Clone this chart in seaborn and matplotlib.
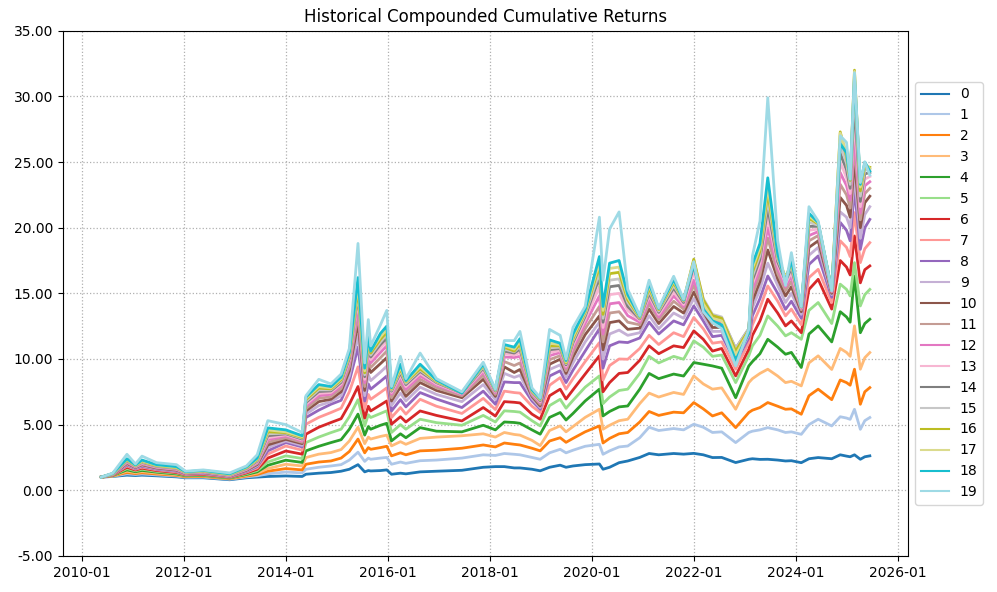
import matplotlib
matplotlib.use("Agg")
import matplotlib.pyplot as plt
import matplotlib.dates as mdates
import matplotlib.ticker as mticker
import seaborn as sns
import pandas as pd

dates = [
    "2010-05-20", "2010-08-10", "2010-11-20", "2011-01-20", "2011-03-08", "2011-06-20",
    "2011-11-10", "2012-01-15", "2012-05-20", "2012-11-25", "2013-03-25", "2013-06-10",
    "2013-08-25", "2014-01-01", "2014-04-28", "2014-05-25", "2014-08-25", "2014-11-20",
    "2015-02-01", "2015-04-01", "2015-06-02", "2015-07-20", "2015-08-15", "2015-09-01",
    "2015-11-10", "2015-12-25", "2016-01-28", "2016-04-01", "2016-05-10", "2016-08-20",
    "2016-12-15", "2017-06-15", "2017-11-15", "2018-02-10", "2018-04-15", "2018-06-25",
    "2018-08-05", "2018-10-30", "2018-12-28", "2019-03-05", "2019-05-20", "2019-07-01",
    "2019-08-20", "2019-11-15", "2020-02-25", "2020-03-22", "2020-05-08", "2020-07-15",
    "2020-09-15", "2020-12-10", "2021-02-15", "2021-04-25", "2021-08-10", "2021-10-20",
    "2022-01-01", "2022-03-10", "2022-05-15", "2022-07-20", "2022-10-28", "2023-01-30",
    "2023-02-25", "2023-04-20", "2023-06-15", "2023-08-25", "2023-10-20", "2023-12-01",
    "2024-02-10", "2024-04-05", "2024-06-10", "2024-09-15", "2024-11-15", "2024-12-30",
    "2025-01-25", "2025-02-25", "2025-04-08", "2025-05-10", "2025-06-15",
]

s0 = [1.0, 1.05, 1.15, 1.12, 1.15, 1.1, 1.02, 0.95, 0.95, 0.8, 0.95, 1.0, 1.05, 1.09, 1.05, 1.22, 1.3, 1.35, 1.45, 1.6,
      1.95, 1.4, 1.5, 1.47, 1.5, 1.55, 1.22, 1.3, 1.25, 1.4, 1.45, 1.52, 1.75, 1.8, 1.8, 1.7, 1.7, 1.6, 1.48, 1.75,
      1.91, 1.75, 1.85, 1.95, 2.0, 1.6, 1.75, 2.1, 2.23, 2.5, 2.8, 2.7, 2.8, 2.75, 2.81, 2.7, 2.49, 2.5, 2.11, 2.36,
      2.4, 2.35, 2.36, 2.3, 2.23, 2.25, 2.1, 2.4, 2.49, 2.4, 2.7, 2.6, 2.55, 2.7, 2.36, 2.55, 2.62]
s1 = [1.0, 1.07, 1.25, 1.2, 1.24, 1.17, 1.08, 0.99, 1.0, 0.84, 1.02, 1.1, 1.25, 1.39, 1.32, 1.6, 1.75, 1.85, 1.95, 2.3,
      2.9, 2.2, 2.45, 2.36, 2.45, 2.5, 1.98, 2.15, 2.05, 2.25, 2.3, 2.45, 2.7, 2.65, 2.8, 2.74, 2.7, 2.5, 2.36, 2.85,
      3.12, 2.85, 3.05, 3.35, 3.5, 2.74, 3.0, 3.3, 3.37, 4.0, 4.8, 4.55, 4.7, 4.6, 5.03, 4.8, 4.4, 4.45, 3.63, 4.4,
      4.5, 4.6, 4.77, 4.6, 4.4, 4.45, 4.26, 5.0, 5.41, 4.9, 5.6, 5.5, 5.4, 6.17, 4.64, 5.3, 5.54]
s2 = [1.0, 1.09, 1.35, 1.27, 1.33, 1.24, 1.13, 1.03, 1.05, 0.87, 1.08, 1.2, 1.45, 1.65, 1.55, 1.98, 2.15, 2.23, 2.45, 2.95,
      3.9, 2.85, 3.25, 3.12, 3.25, 3.35, 2.62, 2.85, 2.7, 3.0, 3.05, 3.2, 3.45, 3.3, 3.6, 3.5, 3.45, 3.2, 3.0, 3.75,
      4.0, 3.65, 3.95, 4.45, 4.9, 3.6, 3.95, 4.3, 4.4, 5.2, 6.0, 5.7, 5.95, 5.9, 6.68, 6.2, 5.66, 5.9, 4.77, 5.92,
      6.1, 6.3, 6.68, 6.4, 6.17, 6.2, 5.79, 7.2, 7.7, 6.9, 8.4, 8.2, 8.0, 9.22, 6.55, 7.5, 7.82]
s3 = [1.0, 1.1, 1.45, 1.34, 1.42, 1.31, 1.18, 1.07, 1.09, 0.9, 1.14, 1.3, 1.65, 1.98, 1.85, 2.49, 2.75, 2.87, 3.1, 3.75,
      4.8, 3.55, 4.05, 3.9, 4.1, 4.2, 3.38, 3.7, 3.5, 3.95, 4.05, 4.15, 4.3, 4.05, 4.4, 4.25, 4.2, 3.8, 3.4, 4.55,
      4.9, 4.45, 4.85, 5.55, 6.17, 4.65, 4.95, 5.3, 5.41, 6.6, 7.4, 7.1, 7.45, 7.3, 8.71, 8.1, 7.7, 7.8, 6.17, 8.2,
      8.5, 8.9, 9.22, 8.7, 8.2, 8.3, 7.95, 9.7, 10.24, 9.2, 10.8, 10.5, 10.2, 12.52, 9.22, 10.1, 10.49]
s4 = [1.0, 1.12, 1.55, 1.41, 1.51, 1.38, 1.24, 1.1, 1.13, 0.93, 1.2, 1.4, 1.9, 2.29, 2.12, 3.0, 3.35, 3.63, 3.85, 4.65,
      5.8, 4.2, 4.85, 4.65, 4.95, 5.1, 3.76, 4.3, 4.0, 4.77, 4.5, 4.45, 4.95, 4.6, 5.2, 5.16, 5.1, 4.6, 4.27, 5.55,
      5.92, 5.35, 5.85, 6.8, 7.7, 5.66, 6.0, 6.35, 6.42, 7.7, 8.9, 8.5, 8.85, 8.7, 9.73, 9.6, 9.47, 9.3, 7.05, 9.47,
      9.8, 10.4, 11.5, 10.9, 10.36, 10.5, 9.35, 11.9, 12.52, 11.3, 13.6, 13.2, 12.8, 16.32, 12.0, 12.7, 13.03]
s5 = [1.0, 1.14, 1.65, 1.48, 1.6, 1.44, 1.3, 1.14, 1.17, 0.96, 1.26, 1.5, 2.15, 2.62, 2.42, 3.63, 4.05, 4.39, 4.65, 5.6,
      6.9, 4.9, 5.75, 5.54, 5.85, 6.05, 4.4, 5.0, 4.65, 5.41, 5.15, 4.95, 5.7, 5.2, 6.05, 6.0, 5.95, 5.3, 4.9, 6.45,
      6.93, 6.25, 6.85, 7.85, 8.71, 6.6, 7.1, 7.6, 7.7, 8.9, 10.2, 9.7, 10.2, 9.98, 11.38, 10.9, 10.2, 10.3, 8.2, 10.24,
      11.0, 11.8, 13.28, 12.5, 11.76, 12.0, 11.5, 13.7, 14.3, 12.7, 15.7, 15.3, 14.8, 17.34, 14.04, 14.9, 15.3]
s6 = [1.0, 1.15, 1.75, 1.54, 1.68, 1.5, 1.35, 1.17, 1.21, 0.99, 1.32, 1.6, 2.45, 2.99, 2.75, 4.27, 4.8, 5.16, 5.45, 6.55,
      7.9, 5.5, 6.4, 6.04, 6.5, 6.8, 5.03, 5.6, 5.2, 6.04, 5.7, 5.28, 6.3, 5.65, 6.75, 6.7, 6.65, 5.8, 5.41, 7.2,
      7.7, 6.95, 7.65, 8.85, 10.24, 7.5, 8.2, 8.9, 8.97, 9.9, 11.0, 10.4, 11.0, 10.87, 12.14, 11.5, 10.6, 10.8, 8.71, 10.74,
      11.8, 12.9, 14.55, 13.5, 12.52, 12.9, 12.0, 15.3, 16.07, 13.8, 17.5, 17.0, 16.4, 19.37, 15.8, 16.8, 17.09]
s7 = [1.0, 1.17, 1.85, 1.6, 1.76, 1.56, 1.4, 1.2, 1.25, 1.02, 1.38, 1.7, 2.75, 3.37, 3.05, 5.03, 5.55, 5.92, 6.25, 7.5,
      9.4, 6.2, 7.3, 6.93, 7.45, 7.8, 5.54, 6.3, 5.8, 6.93, 6.4, 5.85, 7.0, 6.15, 7.55, 7.44, 7.4, 6.4, 5.92, 8.0,
      8.58, 7.7, 8.5, 9.8, 11.25, 8.4, 9.5, 10.0, 9.98, 10.8, 11.8, 11.1, 12.0, 11.7, 13.16, 12.3, 11.2, 11.3, 9.22, 11.25,
      12.6, 13.9, 15.56, 14.4, 13.28, 13.8, 12.6, 16.2, 16.83, 14.3, 19.0, 18.5, 17.8, 21.15, 17.34, 18.4, 18.86]
s8 = [1.0, 1.18, 1.92, 1.65, 1.82, 1.61, 1.45, 1.23, 1.28, 1.04, 1.43, 1.8, 3.0, 3.63, 3.3, 5.54, 6.1, 6.55, 6.85, 8.3,
      10.9, 6.8, 8.1, 7.7, 8.3, 8.7, 6.04, 6.9, 6.35, 7.44, 6.95, 6.3, 7.55, 6.55, 8.25, 8.2, 8.2, 6.8, 6.17, 8.7,
      9.1, 8.2, 9.15, 10.6, 12.3, 9.3, 11.0, 11.3, 11.25, 11.6, 12.8, 11.9, 12.9, 12.6, 14.04, 12.9, 11.7, 11.8, 9.73, 11.6,
      13.3, 14.6, 16.32, 15.0, 13.78, 14.4, 13.1, 17.2, 17.85, 14.7, 20.4, 19.8, 19.0, 22.92, 18.35, 20.0, 20.63]
s9 = [1.0, 1.19, 1.98, 1.69, 1.88, 1.65, 1.49, 1.25, 1.31, 1.06, 1.48, 1.88, 3.25, 3.76, 3.42, 5.8, 6.45, 6.75, 7.2, 8.7,
      11.8, 7.2, 8.8, 8.35, 9.0, 9.45, 6.45, 7.4, 6.8, 7.85, 7.3, 6.75, 8.05, 6.9, 8.9, 8.6, 8.75, 7.0, 6.3, 9.2,
      9.55, 8.6, 9.7, 11.3, 12.8, 10.0, 11.9, 12.2, 11.8, 12.0, 13.3, 12.3, 13.5, 13.1, 14.6, 13.3, 12.1, 12.1, 9.9, 11.85,
      13.9, 15.3, 17.3, 15.6, 14.3, 15.0, 13.4, 17.9, 18.5, 14.9, 21.2, 20.8, 20.0, 24.0, 19.2, 21.0, 21.6]
s10 = [1.0, 1.2, 2.04, 1.73, 1.94, 1.69, 1.53, 1.27, 1.34, 1.08, 1.52, 1.96, 3.45, 3.88, 3.55, 6.04, 6.75, 6.93, 7.5, 9.1,
       12.8, 7.6, 9.45, 8.97, 9.65, 10.1, 6.8, 7.85, 7.15, 8.2, 7.6, 7.05, 8.45, 7.15, 9.4, 8.97, 9.2, 7.15, 6.42, 9.6,
       9.98, 8.9, 10.15, 11.85, 13.28, 10.7, 12.77, 12.9, 12.26, 12.35, 13.8, 12.7, 14.0, 13.5, 15.1, 13.6, 12.4, 12.4, 10.1, 12.0,
       14.4, 15.9, 18.3, 16.1, 14.8, 15.5, 13.6, 18.5, 19.0, 15.0, 22.3, 21.7, 20.8, 25.2, 20.0, 21.9, 22.4]
s11 = [1.0, 1.21, 2.1, 1.76, 1.99, 1.73, 1.57, 1.29, 1.36, 1.1, 1.56, 2.03, 3.65, 4.0, 3.65, 6.22, 7.0, 7.12, 7.75, 9.4,
       13.4, 7.9, 9.9, 9.35, 10.1, 10.6, 7.05, 8.2, 7.45, 8.45, 7.8, 7.2, 8.75, 7.3, 9.8, 9.5, 9.7, 7.25, 6.55, 9.95,
       10.25, 9.1, 10.5, 12.3, 14.0, 11.3, 13.5, 13.6, 12.8, 12.6, 14.2, 13.0, 14.4, 13.8, 15.6, 13.9, 12.7, 12.6, 10.3, 12.1,
       14.9, 16.4, 19.2, 16.5, 15.2, 15.9, 13.75, 19.0, 19.4, 15.1, 23.3, 22.5, 21.5, 26.2, 20.6, 22.6, 23.0]
s12 = [1.0, 1.22, 2.15, 1.79, 2.04, 1.76, 1.6, 1.31, 1.39, 1.12, 1.6, 2.1, 3.85, 4.14, 3.75, 6.42, 7.2, 7.31, 7.95, 9.7,
       14.0, 8.2, 10.3, 9.7, 10.5, 11.0, 7.31, 8.5, 7.7, 8.7, 8.0, 7.3, 9.0, 7.42, 10.15, 10.11, 10.2, 7.35, 6.68, 10.25,
       10.49, 9.3, 10.8, 12.7, 14.8, 11.9, 14.2, 14.3, 13.3, 12.8, 14.5, 13.2, 14.8, 14.0, 16.0, 14.1, 12.9, 12.8, 10.45, 12.2,
       15.3, 16.9, 20.0, 16.9, 15.5, 16.3, 13.85, 19.4, 19.7, 15.15, 24.2, 23.2, 22.1, 27.0, 21.1, 23.2, 23.5]
s13 = [1.0, 1.23, 2.2, 1.82, 2.08, 1.79, 1.63, 1.33, 1.41, 1.14, 1.63, 2.16, 4.0, 4.22, 3.83, 6.55, 7.38, 7.45, 8.1, 9.9,
       14.6, 8.45, 10.6, 9.95, 10.85, 11.35, 7.45, 8.75, 7.9, 8.9, 8.1, 7.35, 9.15, 7.5, 10.4, 10.3, 10.5, 7.42, 6.75, 10.5,
       10.65, 9.45, 11.05, 13.0, 15.5, 12.4, 14.9, 15.0, 13.7, 12.95, 14.8, 13.4, 15.1, 14.15, 16.6, 14.3, 13.1, 12.95, 10.6, 12.25,
       15.7, 17.3, 20.8, 17.2, 15.75, 16.6, 13.9, 19.8, 19.9, 15.2, 25.0, 23.8, 22.6, 28.3, 21.6, 23.7, 23.9]
s14 = [1.0, 1.24, 2.24, 1.84, 2.12, 1.82, 1.66, 1.35, 1.43, 1.16, 1.66, 2.22, 4.15, 4.3, 3.9, 6.68, 7.52, 7.57, 8.22, 10.05,
       14.9, 8.65, 10.85, 10.15, 11.1, 11.6, 7.55, 8.95, 8.05, 9.05, 8.2, 7.4, 9.3, 7.55, 10.6, 10.45, 10.75, 7.48, 6.82, 10.7,
       10.8, 9.55, 11.25, 13.25, 16.2, 12.8, 15.5, 15.6, 14.0, 13.05, 15.0, 13.55, 15.4, 14.3, 17.1, 14.5, 13.3, 13.1, 10.8, 12.3,
       16.0, 17.6, 21.5, 17.4, 15.95, 16.9, 13.95, 20.1, 20.1, 15.25, 25.7, 24.4, 23.0, 29.5, 22.0, 24.1, 24.2]
s15 = [1.0, 1.25, 2.28, 1.86, 2.16, 1.85, 1.69, 1.36, 1.45, 1.18, 1.69, 2.28, 4.3, 4.35, 3.96, 6.78, 7.65, 7.65, 8.32, 10.2,
       15.1, 8.8, 11.05, 10.3, 11.3, 11.85, 7.62, 9.1, 8.15, 9.15, 8.25, 7.42, 9.4, 7.6, 10.75, 10.55, 10.95, 7.52, 6.88, 10.85,
       10.9, 9.65, 11.4, 13.4, 16.6, 13.1, 16.0, 16.1, 14.3, 13.1, 15.2, 13.65, 15.6, 14.4, 17.5, 14.6, 13.4, 13.2, 10.8, 12.3,
       16.3, 17.9, 22.1, 17.6, 16.1, 17.1, 14.0, 20.4, 20.2, 15.3, 26.3, 24.9, 23.3, 30.6, 22.4, 24.4, 24.4]
s16 = [1.0, 1.26, 2.32, 1.88, 2.2, 1.88, 1.72, 1.38, 1.47, 1.2, 1.72, 2.33, 4.45, 4.39, 4.02, 6.9, 7.78, 7.72, 8.42, 10.3,
       15.4, 8.95, 11.25, 10.45, 11.5, 12.05, 7.7, 9.25, 8.25, 9.25, 8.3, 7.44, 9.5, 7.63, 10.9, 10.6, 11.15, 7.56, 6.93, 11.0,
       11.0, 9.72, 11.55, 13.55, 17.1, 13.4, 16.5, 16.6, 14.5, 13.15, 15.4, 13.75, 15.8, 14.45, 17.6, 14.5, 13.3, 13.1, 10.6, 12.2,
       16.6, 18.2, 22.7, 17.8, 16.2, 17.3, 14.0, 20.7, 20.3, 15.3, 27.3, 25.4, 23.6, 32.0, 22.8, 24.7, 24.6]
s17 = [1.0, 1.27, 2.36, 1.9, 2.24, 1.91, 1.75, 1.39, 1.49, 1.22, 1.75, 2.38, 4.6, 4.45, 4.08, 7.0, 7.9, 7.8, 8.52, 10.4,
       15.8, 9.1, 11.45, 10.6, 11.7, 12.25, 7.75, 9.4, 8.3, 9.4, 8.35, 7.45, 9.55, 7.65, 11.0, 10.75, 11.35, 7.6, 6.96, 11.2,
       11.1, 9.8, 11.7, 13.65, 17.4, 13.7, 16.9, 17.0, 14.7, 13.2, 15.6, 13.8, 15.95, 14.5, 17.4, 14.2, 13.1, 12.9, 10.3, 12.1,
       16.9, 18.5, 23.2, 17.9, 16.1, 17.4, 14.0, 20.9, 20.35, 15.3, 27.2, 25.6, 23.7, 31.9, 23.1, 24.9, 24.5]
s18 = [1.0, 1.28, 2.4, 1.93, 2.3, 1.95, 1.8, 1.41, 1.51, 1.25, 1.78, 2.45, 4.75, 4.6, 4.15, 7.1, 8.05, 7.9, 8.62, 10.5,
       16.2, 9.3, 11.7, 10.6, 11.95, 12.5, 7.8, 9.6, 8.35, 9.6, 8.4, 7.4, 9.6, 7.68, 11.1, 10.9, 11.55, 7.65, 7.0, 11.45,
       11.2, 9.88, 11.9, 13.75, 17.8, 14.0, 17.3, 17.5, 14.9, 13.25, 15.75, 13.85, 16.05, 14.5, 17.2, 13.8, 12.9, 12.6, 9.9, 12.0,
       17.2, 18.8, 23.8, 18.0, 15.9, 17.5, 14.0, 21.1, 20.4, 15.25, 26.4, 25.7, 23.7, 31.5, 23.3, 25.0, 24.3]
s19 = [1.0, 1.3, 2.74, 2.0, 2.6, 2.1, 1.95, 1.45, 1.55, 1.32, 1.85, 2.7, 5.3, 5.0, 4.4, 7.2, 8.45, 8.1, 8.85, 10.8,
       18.8, 9.7, 13.0, 11.0, 12.6, 13.7, 7.9, 10.2, 8.5, 10.45, 8.5, 7.5, 9.75, 7.7, 11.4, 11.4, 12.1, 7.8, 7.05, 12.25,
       11.8, 10.0, 12.4, 14.0, 20.8, 16.0, 19.9, 21.2, 15.3, 13.3, 16.0, 13.9, 16.3, 14.55, 17.4, 13.6, 12.77, 12.3, 9.47, 12.26,
       17.85, 20.5, 29.9, 19.0, 15.6, 18.1, 14.0, 21.6, 20.5, 15.2, 27.0, 26.5, 23.7, 31.8, 23.44, 25.0, 24.0]

series_labels = [str(i) for i in range(20)]
series_values = [s0, s1, s2, s3, s4, s5, s6, s7, s8, s9, s10, s11, s12, s13, s14, s15, s16, s17, s18, s19]

for lab, vals in zip(series_labels, series_values):
    assert len(vals) == len(dates), (lab, len(vals), len(dates))

df = pd.concat(
    [pd.DataFrame({"date": pd.to_datetime(dates), "value": vals, "series": lab})
     for lab, vals in zip(series_labels, series_values)],
    ignore_index=True,
)

fig, ax = plt.subplots(figsize=(9.97, 5.92), dpi=100)
sns.lineplot(
    data=df, x="date", y="value", hue="series", hue_order=series_labels,
    palette=sns.color_palette("tab20", 20), linewidth=2.0, estimator=None,
    ax=ax,
)

ax.set_title("Historical Compounded Cumulative Returns", fontsize=12)
ax.set_xlabel("")
ax.set_ylabel("")
ax.set_ylim(-5, 35)
ax.yaxis.set_major_locator(mticker.MultipleLocator(5))
ax.yaxis.set_major_formatter(mticker.FormatStrFormatter("%.2f"))
ax.xaxis.set_major_locator(mdates.YearLocator(2))
ax.xaxis.set_major_formatter(mdates.DateFormatter("%Y-%m"))
ax.grid(True, linestyle=":", color="#b0b0b0", linewidth=0.9)

handles, labels = ax.get_legend_handles_labels()
for h in handles:
    h.set_linewidth(1.5)
ax.legend(handles, labels, loc="center left", bbox_to_anchor=(1.0, 0.5))

fig.subplots_adjust(left=0.063, right=0.911, top=0.948, bottom=0.061)
fig.savefig("out.png", dpi=100)
